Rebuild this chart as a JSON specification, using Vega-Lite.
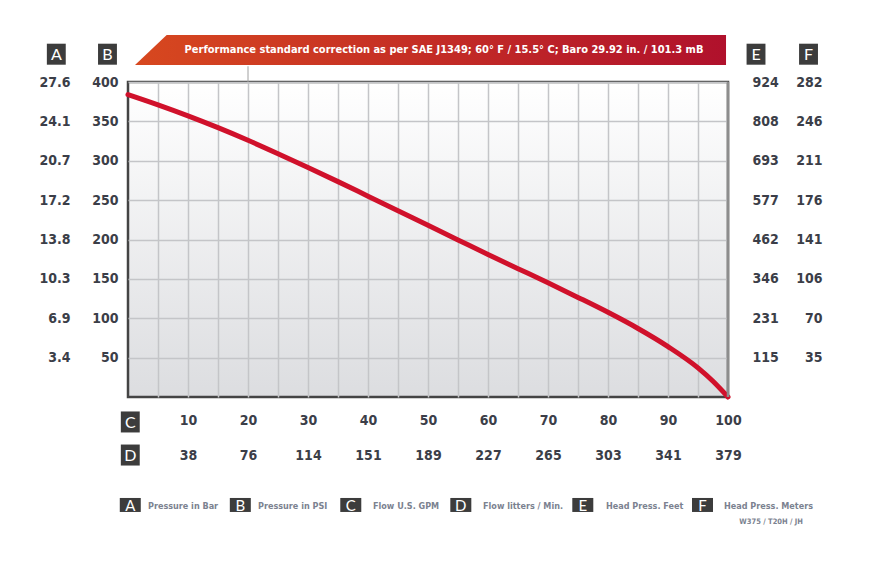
{
  "$schema": "https://vega.github.io/schema/vega-lite/v6.json",
  "width": 600,
  "height": 315,
  "autosize": {"type": "none"},
  "padding": {"left": 128, "top": 82, "right": 157, "bottom": 187},
  "background": "white",
  "data": {"values": [{}]},
  "datasets": {
    "curve": [
      {"gpm": 0, "psi": 384},
      {"gpm": 5, "psi": 371},
      {"gpm": 10, "psi": 357},
      {"gpm": 15, "psi": 342},
      {"gpm": 20, "psi": 326},
      {"gpm": 25, "psi": 309},
      {"gpm": 30, "psi": 291.5},
      {"gpm": 35, "psi": 273.5},
      {"gpm": 40, "psi": 255},
      {"gpm": 45, "psi": 236.5},
      {"gpm": 50, "psi": 218},
      {"gpm": 55, "psi": 199.5},
      {"gpm": 60, "psi": 181},
      {"gpm": 65, "psi": 163},
      {"gpm": 70, "psi": 145},
      {"gpm": 75, "psi": 126.5},
      {"gpm": 80, "psi": 107.5},
      {"gpm": 85, "psi": 87},
      {"gpm": 90, "psi": 64},
      {"gpm": 95, "psi": 37},
      {"gpm": 97.5, "psi": 20},
      {"gpm": 100, "psi": 0}
    ]
  },
  "config": {
    "view": {
      "stroke": "#444444",
      "strokeWidth": 2.5,
      "fill": {"gradient": "linear", "x1": 0, "y1": 0, "x2": 0, "y2": 1,
        "stops": [{"offset": 0, "color": "#ffffff"}, {"offset": 1, "color": "#dcdde0"}]}
    },
    "axis": {
      "labelFont": "DejaVu Sans Condensed",
      "labelFontWeight": "bold",
      "labelFontSize": 14,
      "labelColor": "#3b3e48",
      "ticks": false,
      "domain": false,
      "labelFlush": false,
      "labelOverlap": false,
      "grid": false,
      "gridColor": "#c4c5c8",
      "gridWidth": 1.5
    },
    "text": {"font": "DejaVu Sans Condensed"}
  },
  "layer": [
    {
      "layer": [
        {
          "data": {"name": "curve"},
          "mark": {"type": "line", "color": "#d0112b", "strokeWidth": 5, "interpolate": "monotone", "strokeCap": "round"},
          "encoding": {
            "x": {"field": "gpm", "type": "quantitative", "scale": {"domain": [0, 100], "nice": false},
              "axis": {"orient": "bottom", "title": null,
                "values": [10, 20, 30, 40, 50, 60, 70, 80, 90, 100],
                "labelPadding": 23, "labelBaseline": "middle"}},
            "y": {"field": "psi", "type": "quantitative", "scale": {"domain": [0, 400], "nice": false},
              "axis": {"orient": "left", "title": null, "grid": true,
                "values": [50, 100, 150, 200, 250, 300, 350, 400],
                "labelPadding": 10, "labelBaseline": "middle"}}
          }
        },
        {
          "mark": {"type": "rule", "color": "#8d8d8d", "strokeWidth": 2.5},
          "encoding": {"x": {"datum": 100}, "y": {"datum": 0}, "y2": {"datum": 400}}
        },
        {
          "mark": {"type": "rule", "color": "#a0a0a0", "strokeWidth": 1},
          "encoding": {"x": {"datum": 20}, "y": {"datum": 400}, "y2": {"datum": 420}}
        },
        {
          "mark": {"type": "point", "filled": true, "opacity": 1, "size": 900,
            "shape": "M-17.59,-1L19.7,-1L19.7,1L-19.7,1Z",
            "fill": {"gradient": "linear", "x1": 0, "y1": 0, "x2": 1, "y2": 0,
              "stops": [{"offset": 0, "color": "#d7481f"}, {"offset": 1, "color": "#b0112c"}]}},
          "encoding": {"x": {"datum": 50.42}, "y": {"datum": 440.6}}
        },
        {
          "mark": {"type": "text", "color": "white", "fontWeight": "bold", "fontSize": 11, "baseline": "middle", "align": "center"},
          "encoding": {"x": {"datum": 52.67}, "y": {"datum": 440.6},
            "text": {"value": "Performance standard correction as per SAE J1349;  60° F / 15.5° C;  Baro 29.92 in. / 101.3 mB"}}
        },
        {"mark": {"type": "point", "filled": true, "opacity": 1, "size": 441, "shape": "M-0.9,-1H0.9V1H-0.9Z", "color": "#3c3c3c"},
          "encoding": {"x": {"datum": -11.95}, "y": {"datum": 435.3}}},
        {"mark": {"type": "point", "filled": true, "opacity": 1, "size": 441, "shape": "M-0.9,-1H0.9V1H-0.9Z", "color": "#3c3c3c"},
          "encoding": {"x": {"datum": -3.42}, "y": {"datum": 435.3}}},
        {"mark": {"type": "point", "filled": true, "opacity": 1, "size": 441, "shape": "M-0.9,-1H0.9V1H-0.9Z", "color": "#3c3c3c"},
          "encoding": {"x": {"datum": 104.67}, "y": {"datum": 435.3}}},
        {"mark": {"type": "point", "filled": true, "opacity": 1, "size": 441, "shape": "M-0.9,-1H0.9V1H-0.9Z", "color": "#3c3c3c"},
          "encoding": {"x": {"datum": 113.42}, "y": {"datum": 435.3}}},
        {"mark": {"type": "point", "filled": true, "opacity": 1, "size": 441, "shape": "M-0.9,-1H0.9V1H-0.9Z", "color": "#3c3c3c"},
          "encoding": {"x": {"datum": 0.38}, "y": {"datum": -31.7}}},
        {"mark": {"type": "point", "filled": true, "opacity": 1, "size": 441, "shape": "M-0.9,-1H0.9V1H-0.9Z", "color": "#3c3c3c"},
          "encoding": {"x": {"datum": 0.38}, "y": {"datum": -73.7}}},
        {"mark": {"type": "text", "font": "Lato", "fontSize": 16, "color": "white", "baseline": "middle", "align": "center", "dy": 1},
          "encoding": {"x": {"datum": -11.95}, "y": {"datum": 435.3}, "text": {"value": "A"}}},
        {"mark": {"type": "text", "font": "Lato", "fontSize": 16, "color": "white", "baseline": "middle", "align": "center", "dy": 1},
          "encoding": {"x": {"datum": -3.42}, "y": {"datum": 435.3}, "text": {"value": "B"}}},
        {"mark": {"type": "text", "font": "Lato", "fontSize": 16, "color": "white", "baseline": "middle", "align": "center", "dy": 1},
          "encoding": {"x": {"datum": 104.67}, "y": {"datum": 435.3}, "text": {"value": "E"}}},
        {"mark": {"type": "text", "font": "Lato", "fontSize": 16, "color": "white", "baseline": "middle", "align": "center", "dy": 1},
          "encoding": {"x": {"datum": 113.42}, "y": {"datum": 435.3}, "text": {"value": "F"}}},
        {"mark": {"type": "text", "font": "Lato", "fontSize": 16, "color": "white", "baseline": "middle", "align": "center", "dy": 1},
          "encoding": {"x": {"datum": 0.38}, "y": {"datum": -31.7}, "text": {"value": "C"}}},
        {"mark": {"type": "text", "font": "Lato", "fontSize": 16, "color": "white", "baseline": "middle", "align": "center", "dy": 1},
          "encoding": {"x": {"datum": 0.38}, "y": {"datum": -73.7}, "text": {"value": "D"}}},

        {"mark": {"type": "point", "filled": true, "opacity": 1, "size": 196, "shape": "M-1.5,-1H1.5V1H-1.5Z", "color": "#3c3c3c"},
          "encoding": {"x": {"datum": 0.38}, "y": {"datum": -137.1}}},
        {"mark": {"type": "point", "filled": true, "opacity": 1, "size": 196, "shape": "M-1.5,-1H1.5V1H-1.5Z", "color": "#3c3c3c"},
          "encoding": {"x": {"datum": 18.72}, "y": {"datum": -137.1}}},
        {"mark": {"type": "point", "filled": true, "opacity": 1, "size": 196, "shape": "M-1.5,-1H1.5V1H-1.5Z", "color": "#3c3c3c"},
          "encoding": {"x": {"datum": 37.13}, "y": {"datum": -137.1}}},
        {"mark": {"type": "point", "filled": true, "opacity": 1, "size": 196, "shape": "M-1.5,-1H1.5V1H-1.5Z", "color": "#3c3c3c"},
          "encoding": {"x": {"datum": 55.47}, "y": {"datum": -137.1}}},
        {"mark": {"type": "point", "filled": true, "opacity": 1, "size": 196, "shape": "M-1.5,-1H1.5V1H-1.5Z", "color": "#3c3c3c"},
          "encoding": {"x": {"datum": 75.8}, "y": {"datum": -137.1}}},
        {"mark": {"type": "point", "filled": true, "opacity": 1, "size": 196, "shape": "M-1.5,-1H1.5V1H-1.5Z", "color": "#3c3c3c"},
          "encoding": {"x": {"datum": 95.75}, "y": {"datum": -137.1}}},
        {"mark": {"type": "text", "font": "Lato", "fontSize": 15, "color": "white", "baseline": "middle", "align": "center", "dy": 1},
          "encoding": {"x": {"datum": 0.38}, "y": {"datum": -137.1}, "text": {"value": "A"}}},
        {"mark": {"type": "text", "font": "Lato", "fontSize": 15, "color": "white", "baseline": "middle", "align": "center", "dy": 1},
          "encoding": {"x": {"datum": 18.72}, "y": {"datum": -137.1}, "text": {"value": "B"}}},
        {"mark": {"type": "text", "font": "Lato", "fontSize": 15, "color": "white", "baseline": "middle", "align": "center", "dy": 1},
          "encoding": {"x": {"datum": 37.13}, "y": {"datum": -137.1}, "text": {"value": "C"}}},
        {"mark": {"type": "text", "font": "Lato", "fontSize": 15, "color": "white", "baseline": "middle", "align": "center", "dy": 1},
          "encoding": {"x": {"datum": 55.47}, "y": {"datum": -137.1}, "text": {"value": "D"}}},
        {"mark": {"type": "text", "font": "Lato", "fontSize": 15, "color": "white", "baseline": "middle", "align": "center", "dy": 1},
          "encoding": {"x": {"datum": 75.8}, "y": {"datum": -137.1}, "text": {"value": "E"}}},
        {"mark": {"type": "text", "font": "Lato", "fontSize": 15, "color": "white", "baseline": "middle", "align": "center", "dy": 1},
          "encoding": {"x": {"datum": 95.75}, "y": {"datum": -137.1}, "text": {"value": "F"}}},

        {"mark": {"type": "text", "fontSize": 9, "fontWeight": "bold", "color": "#7b8290", "baseline": "middle", "align": "left"},
          "encoding": {"x": {"datum": 3.33}, "y": {"datum": -138.5}, "text": {"value": "Pressure in Bar"}}},
        {"mark": {"type": "text", "fontSize": 9, "fontWeight": "bold", "color": "#7b8290", "baseline": "middle", "align": "left"},
          "encoding": {"x": {"datum": 21.67}, "y": {"datum": -138.5}, "text": {"value": "Pressure in PSI"}}},
        {"mark": {"type": "text", "fontSize": 9, "fontWeight": "bold", "color": "#7b8290", "baseline": "middle", "align": "left"},
          "encoding": {"x": {"datum": 40.83}, "y": {"datum": -138.5}, "text": {"value": "Flow U.S. GPM"}}},
        {"mark": {"type": "text", "fontSize": 9, "fontWeight": "bold", "color": "#7b8290", "baseline": "middle", "align": "left"},
          "encoding": {"x": {"datum": 59.17}, "y": {"datum": -138.5}, "text": {"value": "Flow litters / Min."}}},
        {"mark": {"type": "text", "fontSize": 9, "fontWeight": "bold", "color": "#7b8290", "baseline": "middle", "align": "left"},
          "encoding": {"x": {"datum": 79.67}, "y": {"datum": -138.5}, "text": {"value": "Head Press. Feet"}}},
        {"mark": {"type": "text", "fontSize": 9, "fontWeight": "bold", "color": "#7b8290", "baseline": "middle", "align": "left"},
          "encoding": {"x": {"datum": 99.33}, "y": {"datum": -138.5}, "text": {"value": "Head Press. Meters"}}},
        {"mark": {"type": "text", "fontSize": 7.5, "fontWeight": "bold", "color": "#7b8290", "baseline": "middle", "align": "right"},
          "encoding": {"x": {"datum": 112.5}, "y": {"datum": -158.7}, "text": {"value": "W375 / T20H / JH"}}}
      ]
    },
    {
      "data": {"name": "curve"},
      "mark": {"type": "line", "opacity": 0},
      "encoding": {
        "x": {"field": "gpm", "type": "quantitative", "scale": {"domain": [0, 100], "nice": false},
          "axis": {"orient": "bottom", "title": null,
            "values": [10, 20, 30, 40, 50, 60, 70, 80, 90, 100],
            "labelExpr": "['38','76','114','151','189','227','265','303','341','379'][round(datum.value/10)-1]",
            "labelPadding": 58, "labelBaseline": "middle"}},
        "y": {"field": "psi", "type": "quantitative", "scale": {"domain": [0, 400], "nice": false},
          "axis": {"orient": "left", "title": null,
            "values": [50, 100, 150, 200, 250, 300, 350, 400],
            "labelExpr": "['3.4','6.9','10.3','13.8','17.2','20.7','24.1','27.6'][round(datum.value/50)-1]",
            "labelPadding": 58, "labelBaseline": "middle"}}
      }
    },
    {
      "data": {"name": "curve"},
      "mark": {"type": "line", "opacity": 0},
      "encoding": {
        "x": {"field": "gpm", "type": "quantitative", "scale": {"domain": [0, 100], "nice": false},
          "axis": {"orient": "top", "title": null, "grid": true, "labels": false,
            "values": [5, 10, 15, 20, 25, 30, 35, 40, 45, 50, 55, 60, 65, 70, 75, 80, 85, 90, 95]}},
        "y": {"field": "psi", "type": "quantitative", "scale": {"domain": [0, 400], "nice": false},
          "axis": {"orient": "right", "title": null,
            "values": [50, 100, 150, 200, 250, 300, 350, 400],
            "labelExpr": "['115','231','346','462','577','693','808','924'][round(datum.value/50)-1]",
            "labelPadding": 24, "labelBaseline": "middle"}}
      }
    },
    {
      "data": {"name": "curve"},
      "mark": {"type": "line", "opacity": 0},
      "encoding": {
        "x": {"field": "gpm", "type": "quantitative", "scale": {"domain": [0, 100], "nice": false}, "axis": null},
        "y": {"field": "psi", "type": "quantitative", "scale": {"domain": [0, 400], "nice": false},
          "axis": {"orient": "right", "title": null,
            "values": [50, 100, 150, 200, 250, 300, 350, 400],
            "labelExpr": "['35','70','106','141','176','211','246','282'][round(datum.value/50)-1]",
            "labelPadding": 94, "labelAlign": "right", "labelBaseline": "middle"}}
      }
    }
  ],
  "resolve": {"scale": {"x": "independent", "y": "independent"}}
}
